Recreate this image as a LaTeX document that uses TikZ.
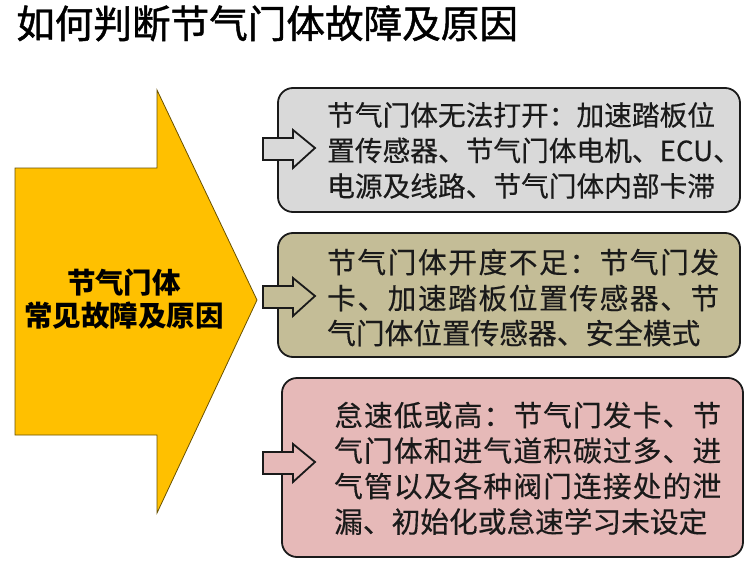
\documentclass[tikz,border=0pt]{standalone}
\usepackage{fontspec}
\setmainfont{Noto Sans CJK SC}
\newfontfamily\titlefont[FakeBold=1.2]{Noto Sans CJK SC}
\newfontfamily\boxfont[FakeBold=0.4]{Noto Sans CJK SC}
\definecolor{arrowfill}{HTML}{FFC000}
\definecolor{arrowline}{HTML}{6B5200}
\definecolor{grayfill}{HTML}{D9D9D9}
\definecolor{tanfill}{HTML}{C4BD97}
\definecolor{pinkfill}{HTML}{E6B9B8}
\definecolor{edge}{HTML}{1A1A1A}
\makeatletter
\def\jsp#1{#1\jsp@b}
\def\jsp@b#1{\ifx#1\relax\else\hfil#1\expandafter\jsp@b\fi}
\makeatother
\tikzset{
  boxshape/.style={draw=edge, line width=1.8pt, rounded corners=15pt, inner sep=0pt},
  sarrow/.style={draw=edge, line width=1.8pt, line join=miter},
  linetxt/.style={anchor=base west, inner sep=0pt, text=edge},
  fonta/.style={font=\boxfont\fontsize{27.7}{35.5}\selectfont},
  fontb/.style={font=\boxfont\fontsize{28.7}{35.5}\selectfont},
}
\begin{document}
\begin{tikzpicture}[x=1pt,y=-1pt]
\useasboundingbox (0,0) rectangle (750,562);
\fill[white] (0,0) rectangle (750,562);
% title
\node[anchor=base west, inner sep=0pt, font=\titlefont\fontsize{38.6}{40}\selectfont] (title) at (16,38) {如何判断节气门体故障及原因};
% big arrow
\draw[fill=arrowfill, draw=arrowline, line width=0.8pt, line join=miter]
  (15,168) -- (157,168) -- (157,90) -- (257,300) -- (157,513) -- (157,435) -- (15,435) -- cycle;
\node[align=center, inner sep=0pt, font=\fontsize{28.5}{33}\selectfont\bfseries] (main) at (124,299) {节气门体\\常见故障及原因};
% boxes
\node[boxshape, fill=grayfill, minimum width=462pt, minimum height=124pt] (b1) at (509,150) {};
\node[boxshape, fill=tanfill, minimum width=462pt, minimum height=124pt] (b2) at (509,295) {};
\node[boxshape, fill=pinkfill, minimum width=461pt, minimum height=179pt] (b3) at (512.5,467.5) {};
% small arrows
\draw[sarrow, fill=grayfill] (263,138) -- ++(30,0) -- ++(0,-8) -- ++(22,18) -- ++(-22,20) -- ++(0,-8) -- ++(-30,0) -- cycle;
\draw[sarrow, fill=tanfill] (263,286) -- ++(30,0) -- ++(0,-8) -- ++(22,18) -- ++(-22,20) -- ++(0,-8) -- ++(-30,0) -- cycle;
\draw[sarrow, fill=pinkfill] (263,452) -- ++(30,0) -- ++(0,-8) -- ++(22,18) -- ++(-22,20) -- ++(0,-8) -- ++(-30,0) -- cycle;
% box 1 text
\node[linetxt, fonta] (t11) at (327,125.5) {节气门体无法打开：加速踏板位};
\node[linetxt, fonta] (t12) at (327,161) {置传感器、节气门体电机、ECU、};
\node[linetxt, fonta] (t13) at (327,196.5) {电源及线路、节气门体内部卡滞};
% box 2 text
\node[linetxt, fontb] (t21) at (327,273) {\hbox to 392pt{\jsp 节气门体开度不足：节气门发\relax}};
\node[linetxt, fontb] (t22) at (327,309) {\hbox to 392pt{\jsp 卡、加速踏板位置传感器、节\relax}};
\node[linetxt, fontb] (t23) at (327,344) {气门体位置传感器、安全模式};
% box 3 text
\node[linetxt, fontb] (t31) at (334,426) {\hbox to 387pt{\jsp 怠速低或高：节气门发卡、节\relax}};
\node[linetxt, fontb] (t32) at (334,461.5) {\hbox to 387pt{\jsp 气门体和进气道积碳过多、进\relax}};
\node[linetxt, fontb] (t33) at (334,497) {\hbox to 387pt{\jsp 气管以及各种阀门连接处的泄\relax}};
\node[linetxt, fontb] (t34) at (334,532.5) {漏、初始化或怠速学习未设定};
\end{tikzpicture}
\end{document}
